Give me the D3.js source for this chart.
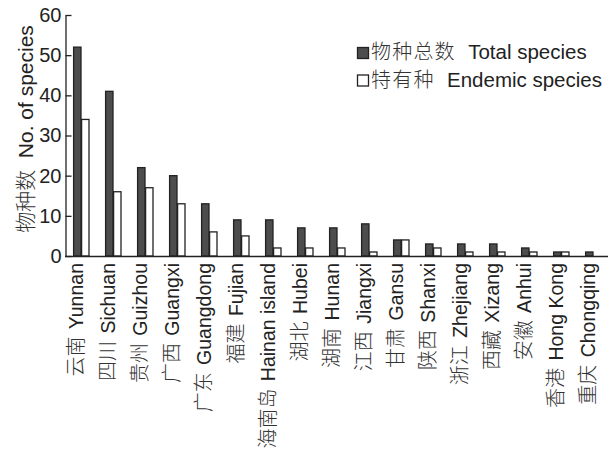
<!DOCTYPE html>
<html>
<head>
<meta charset="utf-8">
<script src="https://cdn.jsdelivr.net/npm/d3@7"></script>
<style>
  body { margin: 0; background: #fff; }
  svg { font-family: "Liberation Sans", Arial, "Noto Sans CJK SC", sans-serif; }
  .cn { font-family: "Noto Sans CJK SC", sans-serif; font-weight: 300; fill: #333; }
</style>
</head>
<body>
<div id="chart"></div>
<script>
// Data
const provincesCn = ['云南', '四川', '贵州', '广西', '广东', '福建', '海南岛', '湖北', '湖南',
  '江西', '甘肃', '陕西', '浙江', '西藏', '安徽', '香港', '重庆'];
const provincesEn = ['Yunnan', 'Sichuan', 'Guizhou', 'Guangxi', 'Guangdong', 'Fujian', 'Hainan island',
  'Hubei', 'Hunan', 'Jiangxi', 'Gansu', 'Shanxi', 'Zhejiang', 'Xizang', 'Anhui', 'Hong Kong', 'Chongqing'];
const totalSpecies = [52, 41, 22, 20, 13, 9, 9, 7, 7, 8, 4, 3, 3, 3, 2, 1, 1];
const endemicSpecies = [34, 16, 17, 13, 6, 5, 2, 2, 2, 1, 4, 2, 1, 1, 1, 1, 0];
const yTicks = [0, 10, 20, 30, 40, 50, 60];
const seriesKeys = ['total', 'endemic'];

const WIDTH = 609;
const HEIGHT = 456;
const MARGIN = { left: 65, right: 0, top: 15, bottom: 200 };
const DARK = '#4d4d4d';
const INK = '#222';

const data = provincesEn.map((en, i) => ({
  en: en,
  cn: provincesCn[i],
  total: totalSpecies[i],
  endemic: endemicSpecies[i]
}));

const svg = d3.select('#chart')
  .append('svg')
  .attr('width', WIDTH)
  .attr('height', HEIGHT);

// each province gets a 16px group (two touching bars) on a 32px step
const x = d3.scaleBand()
  .domain(provincesEn)
  .range([MARGIN.left, WIDTH - MARGIN.right])
  .paddingInner(0.5)
  .paddingOuter(0.25);

const xSub = d3.scaleBand()
  .domain(seriesKeys)
  .range([0, x.bandwidth()]);

const y = d3.scaleLinear()
  .domain([0, 60])
  .range([HEIGHT - MARGIN.bottom, MARGIN.top]);

// bars
const groups = svg.append('g')
  .selectAll('g')
  .data(data)
  .join('g')
  .attr('transform', d => `translate(${x(d.en)},0)`);

groups.selectAll('rect')
  .data(d => seriesKeys.map(k => ({ key: k, value: d[k] })).filter(v => v.value > 0))
  .join('rect')
  .attr('x', d => xSub(d.key) + 0.6)
  .attr('width', xSub.bandwidth() - 0.6)
  .attr('y', d => y(d.value))
  .attr('height', d => y(0) - y(d.value))
  .attr('fill', d => d.key === 'total' ? DARK : '#fff')
  .attr('stroke', INK)
  .attr('stroke-width', 1.3);

// y axis, ticks pointing inward
const yAxis = svg.append('g')
  .attr('transform', `translate(${MARGIN.left + 0.5},0)`)
  .call(d3.axisLeft(y).tickValues(yTicks).tickSizeInner(-6).tickSizeOuter(0).tickPadding(4));
yAxis.select('.domain').attr('stroke', INK).attr('stroke-width', 1.3);
yAxis.selectAll('.tick line').attr('stroke', INK).attr('stroke-width', 1.3);
yAxis.selectAll('.tick text')
  .attr('font-size', 20)
  .attr('fill', '#222');

// x axis line and labels
const xAxis = svg.append('g')
  .attr('transform', `translate(0,${y(0)})`)
  .call(d3.axisBottom(x).tickSize(0).tickSizeOuter(0).tickFormat(''));
xAxis.select('.domain').attr('stroke', INK).attr('stroke-width', 1.3)
  .attr('d', `M${MARGIN.left},0.5H${WIDTH - 1}`);

const xLabels = xAxis.selectAll('.tick text')
  .attr('x', -7)
  .attr('y', 2)
  .attr('dy', null)
  .attr('text-anchor', 'end')
  .attr('transform', 'rotate(-90)')
  .attr('fill', '#222')
  .style('white-space', 'pre');
xLabels.append('tspan').attr('class', 'cn').attr('font-size', 20)
  .text(d => data.find(v => v.en === d).cn);
xLabels.append('tspan').attr('font-size', 19.5).attr('dx', 2).text(d => ' ' + d);

// y axis title
const yTitle = svg.append('text')
  .attr('transform', 'translate(33,129) rotate(-90)')
  .attr('text-anchor', 'middle')
  .attr('font-size', 21)
  .attr('fill', '#222')
  .style('white-space', 'pre');
yTitle.append('tspan').attr('class', 'cn').text('物种数');
yTitle.append('tspan').text('  No. of species');

// legend
const legendItems = [
  { key: 'total', cn: '物种总数', en: 'Total species' },
  { key: 'endemic', cn: '特有种', en: 'Endemic species' }
];
const legend = svg.append('g')
  .selectAll('g')
  .data(legendItems)
  .join('g')
  .attr('transform', (d, i) => `translate(357,${47 + i * 27.5})`);
legend.append('rect')
  .attr('x', 0.5)
  .attr('y', 0.5)
  .attr('width', 11)
  .attr('height', 11)
  .attr('fill', d => d.key === 'total' ? DARK : '#fff')
  .attr('stroke', INK)
  .attr('stroke-width', 1.3);
const legendText = legend.append('text')
  .attr('x', 14)
  .attr('y', 12)
  .attr('font-size', 20.5)
  .attr('fill', '#222')
  .style('white-space', 'pre');
legendText.append('tspan').attr('class', 'cn').attr('font-size', 20)
  .attr('letter-spacing', 1.2).text(d => d.cn);
legendText.append('tspan').attr('dx', 1).text(d => '  ' + d.en);
</script>
</body>
</html>
